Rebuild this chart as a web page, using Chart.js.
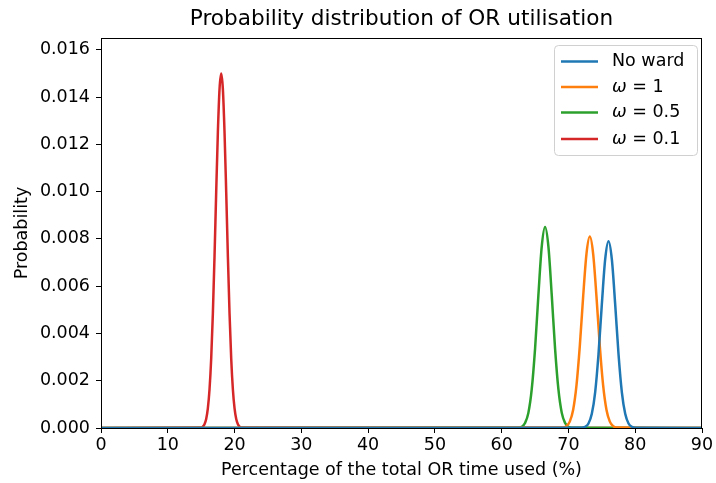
<!DOCTYPE html>
<html>
<head>
<meta charset="utf-8">
<script src="https://cdn.jsdelivr.net/npm/chart.js@4"></script>
<style>
  html, body { margin: 0; padding: 0; background: #fff; }
  #wrap { width: 716px; height: 483px; }
</style>
</head>
<body>
<div id="wrap"><canvas id="c" width="716" height="483"></canvas></div>
<script>
const seriesNames = ['No ward', '\u03c9 = 1', '\u03c9 = 0.5', '\u03c9 = 0.1']
const seriesColors = ['#1f77b4', '#ff7f0e', '#2ca02c', '#d62728']

// x in % of OR time, y in probability
const noWardX = [0, 72, 72.5, 73, 73.5, 74, 74.5, 75, 75.5, 76, 76.5, 77, 77.5, 78, 78.5, 79, 79.5, 80, 90]
const noWardY = [0, 0.00001, 0.00005, 0.00019, 0.0006, 0.00151, 0.00312, 0.00523, 0.00713, 0.0079, 0.00713, 0.00523, 0.00312, 0.00151, 0.0006, 0.00019, 0.00005, 0.00001, 0]

const w1X = [0, 69.2, 69.7, 70.2, 70.7, 71.2, 71.7, 72.2, 72.7, 73.2, 73.7, 74.2, 74.7, 75.2, 75.7, 76.2, 76.7, 77.2, 90]
const w1Y = [0, 0.00002, 0.00008, 0.00027, 0.00076, 0.00179, 0.00346, 0.00555, 0.00737, 0.0081, 0.00737, 0.00555, 0.00346, 0.00179, 0.00076, 0.00027, 0.00008, 0.00002, 0]

const w05X = [0, 62.5, 63, 63.5, 64, 64.5, 65, 65.5, 66, 66.5, 67, 67.5, 68, 68.5, 69, 69.5, 70, 70.5, 90]
const w05Y = [0, 0.00001, 0.00005, 0.00021, 0.00064, 0.00163, 0.00335, 0.00562, 0.00767, 0.0085, 0.00767, 0.00562, 0.00335, 0.00163, 0.00064, 0.00021, 0.00005, 0.00001, 0]

const w01X = [0, 15, 15.25, 15.5, 15.75, 16, 16.25, 16.5, 16.75, 17, 17.25, 17.5, 17.75, 18, 18.25, 18.5, 18.75, 19, 19.25, 19.5, 19.75, 20, 20.25, 20.5, 20.75, 21, 90]
const w01Y = [0, 0.00002, 0.00006, 0.00016, 0.00038, 0.00083, 0.00163, 0.00293, 0.00483, 0.00726, 0.00998, 0.0125, 0.01434, 0.0150, 0.01434, 0.0125, 0.00998, 0.00726, 0.00483, 0.00293, 0.00163, 0.00083, 0.00038, 0.00016, 0.00006, 0.00002, 0]

const xTicks = [0, 10, 20, 30, 40, 50, 60, 70, 80, 90]
const yTicks = [0, 0.002, 0.004, 0.006, 0.008, 0.01, 0.012, 0.014, 0.016]

const FONT = 'DejaVu Sans'
const LABEL_SIZE = 17.5

const pairs = (xs, ys) => xs.map((x, i) => ({ x, y: ys[i] }))

const createDataset = (i, xs, ys) => ({
  label: seriesNames[i],
  data: pairs(xs, ys),
  borderColor: seriesColors[i],
  backgroundColor: seriesColors[i],
  borderWidth: 2.5,
  pointRadius: 0,
  cubicInterpolationMode: 'monotone',
  fill: false,
})

// title, frame and legend in matplotlib style
const decor = {
  id: 'decor',
  afterDraw(chart) {
    const { ctx, chartArea: a } = chart
    ctx.save()
    ctx.fillStyle = '#000'
    ctx.font = `21.6px "${FONT}"`
    ctx.textAlign = 'center'
    ctx.textBaseline = 'middle'
    ctx.fillText('Probability distribution of OR utilisation', (a.left + a.right) / 2, 19)

    ctx.strokeStyle = '#000'
    ctx.lineWidth = 1
    ctx.strokeRect(a.left + 0.5, a.top + 0.5, a.right - a.left - 1, a.bottom - a.top)

    // legend box
    const bx = 554.5, by = 45.5, bw = 143, bh = 110, r = 4
    ctx.beginPath()
    ctx.moveTo(bx + r, by)
    ctx.arcTo(bx + bw, by, bx + bw, by + bh, r)
    ctx.arcTo(bx + bw, by + bh, bx, by + bh, r)
    ctx.arcTo(bx, by + bh, bx, by, r)
    ctx.arcTo(bx, by, bx + bw, by, r)
    ctx.closePath()
    ctx.fillStyle = 'rgba(255,255,255,0.8)'
    ctx.fill()
    ctx.strokeStyle = '#d0d0d0'
    ctx.stroke()

    const rows = [61.5, 87, 112.5, 139]
    ctx.textAlign = 'left'
    rows.forEach((y, i) => {
      ctx.strokeStyle = seriesColors[i]
      ctx.lineWidth = 2.5
      ctx.beginPath()
      ctx.moveTo(561, y)
      ctx.lineTo(598, y)
      ctx.stroke()
      ctx.fillStyle = '#000'
      const label = seriesNames[i]
      if (label.startsWith('\u03c9')) {
        ctx.font = `italic ${LABEL_SIZE}px "${FONT}"`
        ctx.fillText('\u03c9', 612, y)
        const w = ctx.measureText('\u03c9').width
        ctx.font = `${LABEL_SIZE}px "${FONT}"`
        ctx.fillText(label.slice(1), 612 + w, y)
      } else {
        ctx.font = `${LABEL_SIZE}px "${FONT}"`
        ctx.fillText(label, 612, y)
      }
    })
    ctx.restore()
  },
}

const config = {
  type: 'line',
  data: {
    datasets: [
      createDataset(0, noWardX, noWardY),
      createDataset(1, w1X, w1Y),
      createDataset(2, w05X, w05Y),
      createDataset(3, w01X, w01Y),
    ],
  },
  options: {
    animation: false,
    responsive: false,
    layout: { padding: { top: 38, right: 14, left: 0, bottom: 0 } },
    scales: {
      x: {
        type: 'linear',
        min: 0,
        max: 90,
        afterBuildTicks: (s) => { s.ticks = xTicks.map((v) => ({ value: v })) },
        afterFit: (s) => { s.height = 55 },
        grid: { drawOnChartArea: false, tickLength: 5, color: '#000' },
        border: { display: true, color: '#000' },
        ticks: { color: '#000', font: { family: FONT, size: LABEL_SIZE }, padding: 2, maxRotation: 0 },
        title: {
          display: true,
          text: 'Percentage of the total OR time used (%)',
          color: '#000',
          font: { family: FONT, size: LABEL_SIZE },
          padding: { top: 0, bottom: 2 },
        },
      },
      y: {
        type: 'linear',
        min: 0,
        max: 0.0165,
        afterBuildTicks: (s) => { s.ticks = yTicks.map((v) => ({ value: v })) },
        afterFit: (s) => { s.width = 101 },
        grid: { drawOnChartArea: false, tickLength: 5, color: '#000' },
        border: { display: true, color: '#000' },
        ticks: {
          color: '#000',
          font: { family: FONT, size: LABEL_SIZE },
          padding: 6,
          callback: (v) => v.toFixed(3),
        },
        title: {
          display: true,
          text: 'Probability',
          color: '#000',
          font: { family: FONT, size: LABEL_SIZE },
          padding: { top: 12, bottom: 0 },
        },
      },
    },
    plugins: {
      legend: { display: false },
      tooltip: { enabled: false },
    },
  },
  plugins: [decor],
}

new Chart(document.getElementById('c'), config)
</script>
</body>
</html>
